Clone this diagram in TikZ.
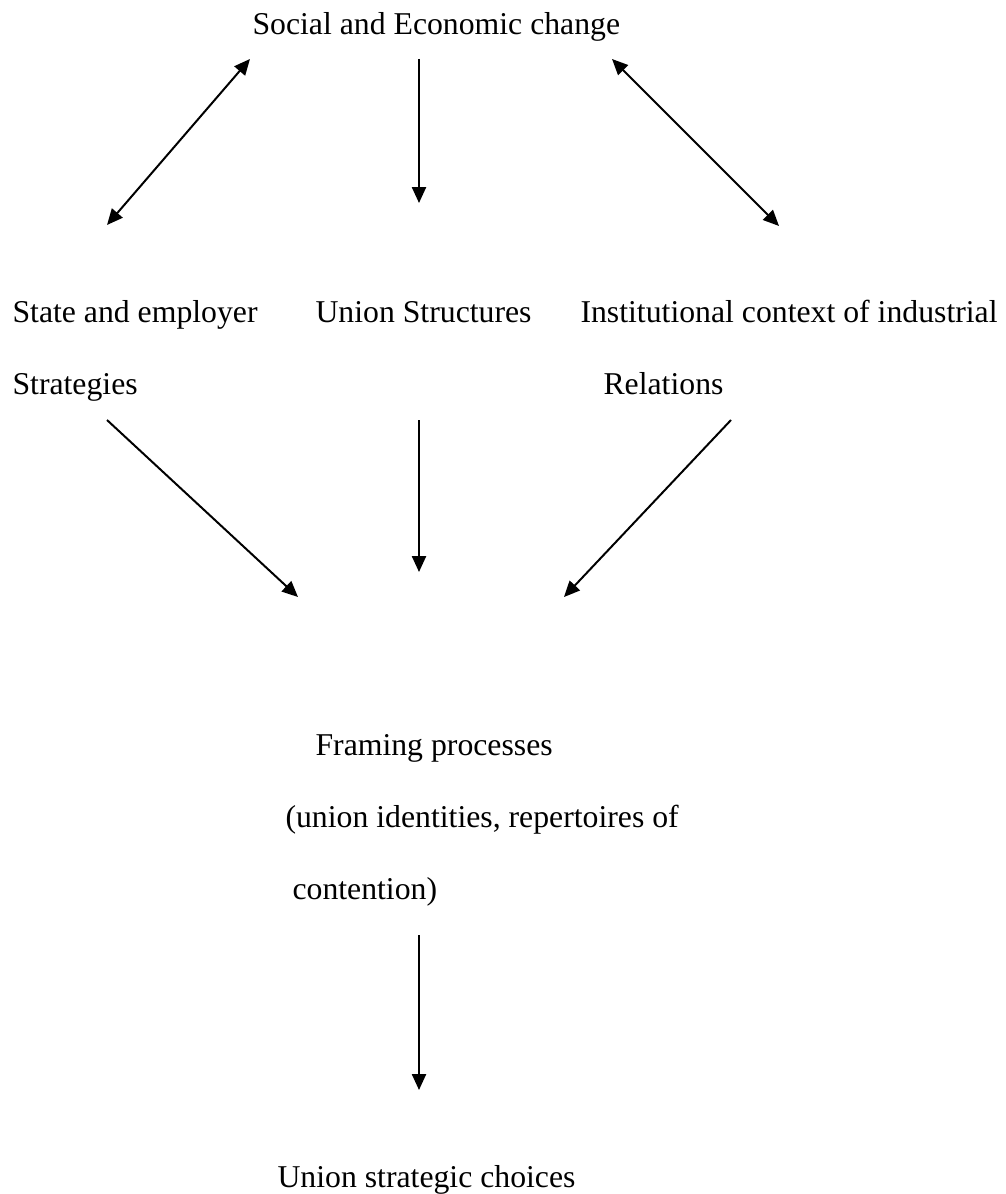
\documentclass[tikz,border=0pt]{standalone}
\usepackage{fontspec}
\setmainfont{Liberation Serif}
\usetikzlibrary{arrows.meta}
\tikzstyle{txt}=[anchor=base west,inner sep=0pt,font=\fontsize{12pt}{14pt}\selectfont]
\tikzstyle{onearr}=[-{Triangle[length=6pt,width=5.3pt]},line width=0.75pt]
\tikzstyle{twoarr}=[{Triangle[length=6pt,width=5.3pt]}-{Triangle[length=6pt,width=5.3pt]},line width=0.75pt]
\begin{document}
\begin{tikzpicture}[x=0.378pt,y=-0.378pt]
    \useasboundingbox (0,0) rectangle (1005,1194);
    \node[txt] (soc) at (252,35)  {Social and Economic change};
    \node[txt] (st1) at (12,323)  {State and employer};
    \node[txt] (st2) at (12,395)  {Strategies};
    \node[txt] (uni) at (315,323) {Union Structures};
    \node[txt] (in1) at (580,323) {Institutional context of industrial};
    \node[txt] (in2) at (603,395) {Relations};
    \node[txt] (fr1) at (315,755) {Framing processes};
    \node[txt] (fr2) at (285,827) {(union identities, repertoires of};
    \node[txt] (fr3) at (292,899) {contention)};
    \node[txt] (usc) at (277,1187) {Union strategic choices};

    \coordinate (a1) at (107,225);  \coordinate (b1) at (250,59);
    \coordinate (a2) at (419,59);   \coordinate (b2) at (419,203);
    \coordinate (a3) at (612,59);   \coordinate (b3) at (779,226);
    \coordinate (a4) at (107,420);  \coordinate (b4) at (298,597);
    \coordinate (a5) at (419,420);  \coordinate (b5) at (419,572);
    \coordinate (a6) at (731,420);  \coordinate (b6) at (564,597);
    \coordinate (a7) at (419,935);  \coordinate (b7) at (419,1090);

    \foreach \from/\to in {a1/b1,a3/b3}
    \draw[twoarr] (\from) -- (\to);
    \foreach \from/\to in {a2/b2,a4/b4,a5/b5,a6/b6,a7/b7}
    \draw[onearr] (\from) -- (\to);
\end{tikzpicture}
\end{document}
